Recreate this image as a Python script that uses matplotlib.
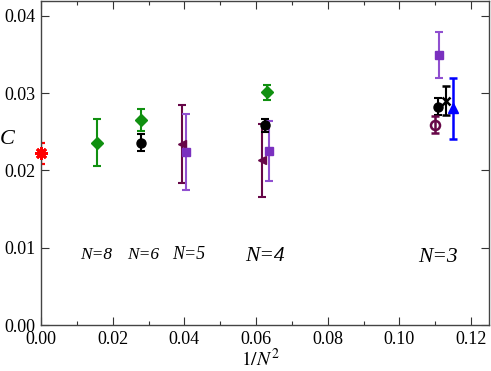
import matplotlib.pyplot as plt
import matplotlib.font_manager as fm
from matplotlib.ticker import MultipleLocator

have = set(f.name for f in fm.fontManager.ttflist)
serif = [n for n in ['Liberation Serif', 'TeX Gyre Termes', 'STIXGeneral'] if n in have]
plt.rcParams['font.family'] = serif + ['DejaVu Serif']
plt.rcParams['mathtext.fontset'] = 'stix'

# extrapolated value at 1/N^2 = 0
x_ext = [0.0]
y_ext = [0.0222]
e_ext = [0.0014]

# green diamonds (N=8, 6, 4)
x_green = [0.0156, 0.0278, 0.0630]
y_green = [0.0236, 0.0265, 0.0301]
e_green = [0.0031, 0.0014, 0.0010]

# black circles (N=6, 4, 3)
x_black = [0.0278, 0.0625, 0.1109]
y_black = [0.0236, 0.0258, 0.0282]
e_black = [0.0011, 0.0009, 0.0011]

# maroon left triangles (N=5, 4)
x_tri = [0.0393, 0.0617]
y_tri = [0.0234, 0.0213]
e_tri = [0.0051, 0.0047]

# purple squares (N=5, 4, 3)
x_sq = [0.0405, 0.0636, 0.1110]
y_sq = [0.0224, 0.0225, 0.0349]
e_sq = [0.0049, 0.0039, 0.0030]

# N=3 extras
x_cross = [0.1130]
y_cross = [0.0290]
e_cross = [0.0019]

x_blue = [0.1149]
y_blue = [0.0280]
e_blue = [0.0040]

x_open = [0.1098]
y_open = [0.0259]
e_open = [0.0011]

labels = ['N=8', 'N=6', 'N=5', 'N=4', 'N=3']
label_x = [0.0154, 0.0284, 0.0413, 0.0626, 0.1108]
label_y = [0.0091, 0.0091, 0.0091, 0.0089, 0.0087]
label_size = [12.5, 12.5, 13, 15.5, 15.5]

fig = plt.figure(figsize=(4.91, 3.71), dpi=100)
ax = fig.add_axes([41 / 491, 1 - 325 / 371, 448 / 491, 324 / 371])

maroon = '#670748'
purple = '#7a30bf'
green = '#109010'

ax.errorbar(x_ext, y_ext, yerr=e_ext, fmt='none', ecolor='red', elinewidth=1.6, capsize=3, capthick=1.6)
ax.plot(x_ext, y_ext, ls='none', marker=(8, 2, 0), ms=9, mew=2, color='red', clip_on=False, zorder=5)
ax.errorbar(x_green, y_green, yerr=e_green, fmt='D', color=green, ms=6, elinewidth=1.5, capsize=3, capthick=1.5)
ax.errorbar(x_tri, y_tri, yerr=e_tri, fmt='<', color=maroon, ms=6, elinewidth=1.5, capsize=3, capthick=1.5)
ax.errorbar(x_sq, y_sq, yerr=e_sq, fmt='s', color=purple, ecolor='#9050d0', ms=6, elinewidth=1.5, capsize=3, capthick=1.5)
ax.errorbar(x_black, y_black, yerr=e_black, fmt='o', color='black', ms=6.5, elinewidth=1.5, capsize=3, capthick=1.5)
ax.errorbar(x_cross, y_cross, yerr=e_cross, fmt='x', color='black', ms=6, mew=1.8, elinewidth=1.5, capsize=3, capthick=1.5)
ax.errorbar(x_blue, y_blue, yerr=e_blue, fmt='^', color='blue', ms=7, elinewidth=1.8, capsize=3, capthick=1.8)
ax.errorbar(x_open, y_open, yerr=e_open, fmt='o', color=maroon, mfc='none', ms=6.5, mew=1.8, elinewidth=1.8, capsize=3, capthick=1.8)

for t, lx, ly, s in zip(labels, label_x, label_y, label_size):
    ax.text(lx, ly, t, fontsize=s, style='italic', ha='center', va='center')

ax.set_xlim(0, 0.125)
ax.set_ylim(0, 0.0419)
ax.xaxis.set_major_locator(MultipleLocator(0.02))
ax.xaxis.set_minor_locator(MultipleLocator(0.01))
ax.yaxis.set_major_locator(MultipleLocator(0.01))
ax.xaxis.set_major_formatter(plt.FuncFormatter(lambda v, p: '%.2f' % v))
ax.yaxis.set_major_formatter(plt.FuncFormatter(lambda v, p: '%.2f' % v))
ax.tick_params(which='both', direction='in', top=True, right=True, labelsize=13, color='#333333')
ax.tick_params(which='major', length=6, width=0.8, pad=4)
ax.tick_params(which='minor', length=3, width=0.8)
for sp in ax.spines.values():
    sp.set_color('#444444')
    sp.set_linewidth(1.0)

fig.text(7.5 / 491, 1 - 140 / 371, 'C', fontsize=16, style='italic', ha='center', va='center')
fig.text(260 / 491, 1 - 359 / 371, r'$\mathit{1/N}^{\mathit{2}}$', fontsize=14, ha='center', va='center')

fig.savefig('out.png', dpi=100)
